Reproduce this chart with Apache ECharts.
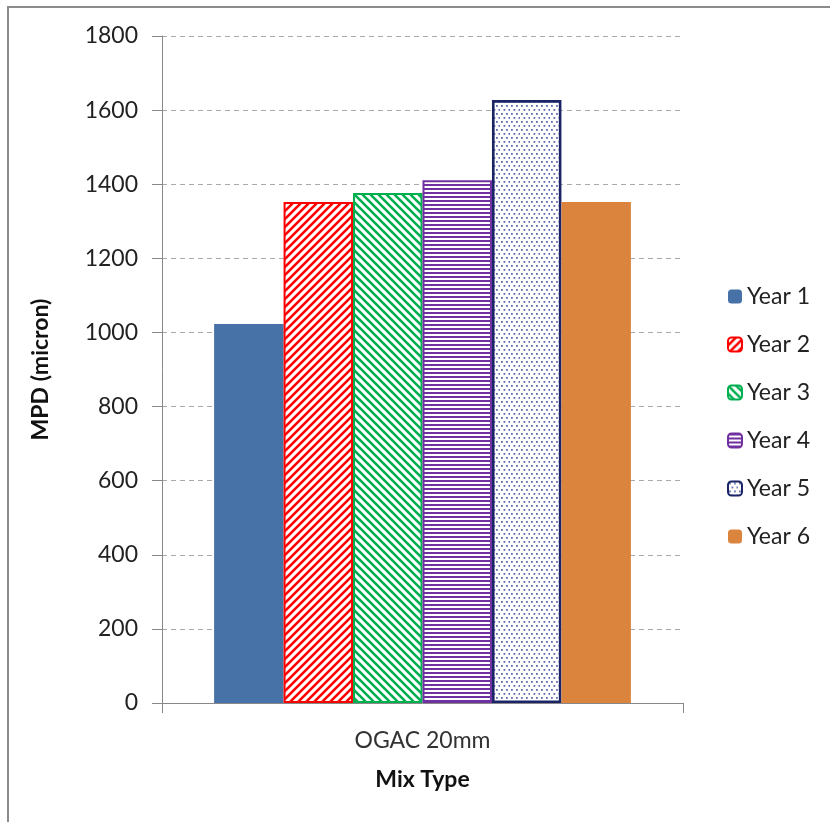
<!DOCTYPE html>
<html><head><meta charset="utf-8">
<script src="https://cdn.jsdelivr.net/npm/echarts@6/dist/echarts.min.js"></script>
<style>html,body{margin:0;padding:0;background:#fff}#c{width:830px;height:822px}</style>
</head><body><div id="c"></div>
<script>
const categories = ['OGAC 20mm'];
const seriesNames = ['Year 1','Year 2','Year 3','Year 4','Year 5','Year 6'];
const year1 = [1023];
const year2 = [1352];
const year3 = [1376];
const year4 = [1411];
const year5 = [1627];
const year6 = [1352];
const yTicks = [0,200,400,600,800,1000,1200,1400,1600,1800];

function tile(w,h,draw){const c=document.createElement('canvas');c.width=w;c.height=h;const g=c.getContext('2d');g.fillStyle='#fff';g.fillRect(0,0,w,h);draw(g);return {image:c,repeat:'repeat'};}
const pRed = tile(8,8,g=>{g.strokeStyle='#ff0000';g.lineWidth=2.6;g.beginPath();g.moveTo(-2,10);g.lineTo(10,-2);g.moveTo(-2,2);g.lineTo(2,-2);g.moveTo(6,10);g.lineTo(10,6);g.stroke();});
const pGreen = tile(8,8,g=>{g.strokeStyle='#00b050';g.lineWidth=2.6;g.beginPath();g.moveTo(-2,-2);g.lineTo(10,10);g.moveTo(6,-2);g.lineTo(10,2);g.moveTo(-2,6);g.lineTo(2,10);g.stroke();});
const pPurple = tile(8,4,g=>{g.fillStyle='#7030a0';g.fillRect(0,0,8,2);});
const pDots = tile(10,8,g=>{g.fillStyle='#5f6eb0';g.fillRect(1,1,1.8,1.8);g.fillRect(6,1,1.8,1.8);g.fillRect(3.5,5,1.8,1.8);g.fillRect(8.5,5,1.8,1.8);});

const data = [year1,year2,year3,year4,year5,year6];
const styles = [
 {color:'#4672a8'},
 {color:pRed,borderColor:'#ff0000',borderWidth:2},
 {color:pGreen,borderColor:'#00b050',borderWidth:2},
 {color:pPurple,borderColor:'#7030a0',borderWidth:2},
 {color:pDots,borderColor:'#1a2466',borderWidth:2.6},
 {color:'#db843d'}
];
const font = 'Lato, "Open Sans", sans-serif';
const chart = echarts.init(document.getElementById('c'));
chart.setOption({
 animation:false,
 backgroundColor:'#fff',
 graphic:[{type:'rect',shape:{x:8,y:7,width:840,height:840},style:{fill:'none',stroke:'#8c8c8c',lineWidth:2},silent:true}],
 grid:{left:162,right:147,top:36,bottom:119},
 legend:{orient:'vertical',left:722,top:280,itemWidth:14,itemHeight:14,itemGap:25,
   textStyle:{fontFamily:font,fontSize:23,color:'#222'},data:seriesNames},
 xAxis:{type:'category',data:categories,
   axisLine:{lineStyle:{color:'#888',width:1}},
   axisTick:{show:true,length:10,lineStyle:{color:'#888'}},
   axisLabel:{fontFamily:font,fontSize:23,color:'#333',margin:26},
   name:'Mix Type',nameLocation:'middle',nameGap:65,
   nameTextStyle:{fontFamily:font,fontSize:23,fontWeight:'bold',color:'#111'}},
 yAxis:{type:'value',min:yTicks[0],max:yTicks[yTicks.length-1],interval:200,
   axisLine:{show:true,lineStyle:{color:'#888'}},
   axisTick:{show:true,length:10,lineStyle:{color:'#888'}},
   splitLine:{lineStyle:{color:'#aaa',type:[5,4]}},
   axisLabel:{fontFamily:font,fontSize:23,color:'#222',margin:24,formatter:v=>String(v)},
   name:'MPD (micron)',nameLocation:'middle',nameGap:110,nameRotate:90,
   nameTextStyle:{fontFamily:font,fontSize:23,fontWeight:'bold',color:'#111'}},
 series:seriesNames.map((n,i)=>({name:n,type:'bar',data:data[i],barGap:'0%',barCategoryGap:'20%',itemStyle:styles[i]}))
});
</script></body></html>
